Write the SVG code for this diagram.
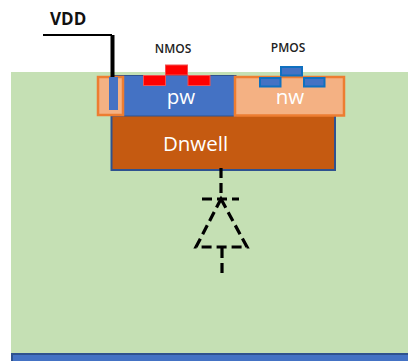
<svg xmlns="http://www.w3.org/2000/svg" width="408" height="361" viewBox="0 0 408 361">
<style>
.lbl{font-family:"Open Sans","Liberation Sans",sans-serif}
.big{fill:#fff;font-size:20.500px;text-anchor:middle}
.small{fill:#222;font-size:12px;font-weight:600;text-anchor:middle}
.red{fill:#ff0000;stroke:#f25050;stroke-width:1}
.bl{fill:#4472c4;stroke:#0f70c0;stroke-width:2}
.dash{fill:none;stroke:#000;stroke-width:3.200;stroke-dasharray:10 5}
</style>
<rect width="408" height="361" fill="#fff"/>
<g id="substrate"><rect x="11" y="72" width="397" height="281" fill="#c5e0b4"/></g>
<g id="bottom-bar"><rect x="12" y="354" width="397" height="9" fill="#4472c4" stroke="#2f528f" stroke-width="2"/></g>
<g id="dnwell"><rect x="111.500" y="112" width="223.500" height="58" fill="#c55a11" stroke="#2f528f" stroke-width="2"/>
<text class="lbl big" x="195.500" y="151">Dnwell</text></g>
<g id="pw"><rect x="112" y="75.500" width="124" height="40.500" fill="#4472c4" stroke="#2f528f" stroke-width="1"/>
<text class="lbl big" x="181" y="104">pw</text></g>
<g id="contact-well"><rect x="98" y="77" width="25" height="38" fill="#f4b183" stroke="#ed7d31" stroke-width="2.500"/>
<rect x="109" y="77" width="9" height="33" fill="#4472c4"/></g>
<g id="nw"><rect x="235" y="77" width="109" height="38.500" fill="#f4b183" stroke="#ed7d31" stroke-width="2.500"/>
<text class="lbl big" x="290" y="104">nw</text></g>
<g id="nmos"><rect class="red" x="165.500" y="65" width="22" height="10"/><rect class="red" x="143.500" y="75.500" width="22" height="10"/><rect class="red" x="188" y="75.500" width="22" height="10"/>
<text class="lbl small" x="173" y="53">NMOS</text></g>
<g id="pmos"><rect class="bl" x="281" y="67" width="21" height="8.500"/><rect class="bl" x="260" y="78" width="20.500" height="8.500"/><rect class="bl" x="304" y="78" width="20.500" height="8.500"/>
<text class="lbl small" x="288" y="52">PMOS</text></g>
<g id="vdd"><text x="50" y="25" font-family="'Open Sans','Liberation Sans',sans-serif" font-size="17" font-weight="700" fill="#111">VDD</text></g>
<g id="connectors">
<path d="M43 35H112" fill="none" stroke="#000" stroke-width="2"/>
<path d="M112.500 35V77" fill="none" stroke="#000" stroke-width="4"/>
<path class="dash" d="M221 168V199"/>
<path class="dash" d="M202 199H239"/>
<path class="dash" d="M221 199L247 247H196Z"/>
<path class="dash" d="M222 248V278"/>
</g>
</svg>
